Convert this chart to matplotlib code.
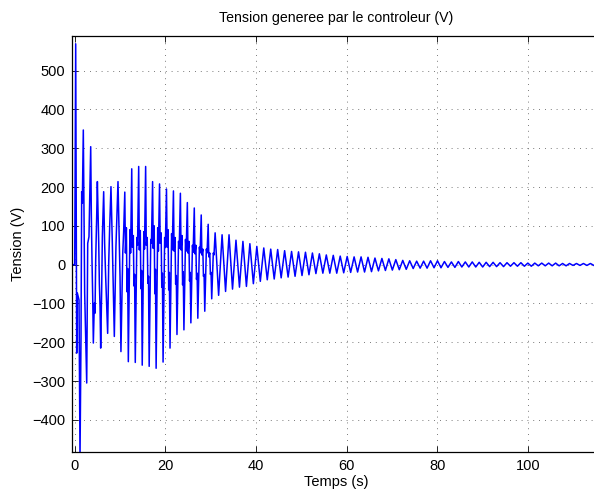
import numpy as np
import matplotlib
matplotlib.use('Agg')
import matplotlib.pyplot as plt

plt.rcParams['font.family'] = ['Liberation Sans', 'DejaVu Sans']

# ========== Données ==========
# debut du signal : points lus un par un (temps en s, tension en V)
t_debut = [-0.53, 0.0, 0.22, 0.44, 0.58, 0.95, 1.17, 1.39, 1.54, 1.68, 1.9,
           2.2, 2.65, 2.87, 3.15, 3.53, 3.67, 3.82, 3.97, 4.11, 4.33, 4.48,
           4.63, 4.85, 5.0, 5.3, 5.44, 5.59, 5.73, 5.95, 6.1, 6.39, 6.6,
           6.83, 7.27, 7.5, 7.72, 8.0, 8.3, 8.5, 8.74, 9.1, 9.55, 10.0,
           10.2, 10.6, 10.8]
u_debut = [0, 0, 569, -228, -73, -91, -500, -190, 188, 158, 347,
           -73, -305, 55, 72, 304, 128, 8, -82, -202, -99, -125,
           12, 124, 214, 55, -48, -108, -215, -65, 72, 188, 55,
           -31, -177, 4, 98, 201, 55, -56, -185, 47, 214, -31,
           -224, 30, 85]

# ensuite : un maximum et un minimum par periode
t_premier_max = 11.05
periode = 1.533
u_max = [187, 247, 253, 253, 214, 208, 195, 190, 184, 160, 146, 128, 104,
         82, 77, 77, 63, 60, 54, 47, 43, 40, 39, 36, 34, 33, 32, 30, 28,
         25, 24, 22, 21, 20, 20, 19, 17, 16, 15, 13, 11, 10, 9, 9, 10, 10,
         8, 7, 8, 7, 7, 6, 6, 6, 5, 5, 5, 5, 4, 4, 4, 4, 4, 3, 3, 3, 3, 3]
u_min = [-250, -252, -259, -262, -267, -251, -215, -180, -168, -150, -138,
         -120, -88, -79, -69, -63, -58, -56, -49, -43, -39, -37, -34, -32,
         -30, -28, -26, -23, -22, -22, -22, -21, -20, -19, -19, -18, -16,
         -15, -14, -13, -12, -10, -9, -9, -8, -8, -7, -7, -6, -6, -6, -6,
         -5, -5, -5, -4, -4, -4, -4, -3, -3, -3, -3, -3, -2, -2, -2, -2]

# oscillations rapides superposees pendant les 13 premieres periodes
osc_a = [30, 45, 38, 50, 42, 55, 45, 35, 38, 30, 28, 25, 20]
osc_b = [95, 75, 88, 70, 100, 82, 90, 70, 75, 60, 50, 40, 30]
osc_c = [-70, -55, -62, -48, -75, -58, -65, -50, -52, -42, -38, -30, -25]
osc_d = [-10, -25, -15, -30, -12, -22, -20, -28, -18, -20, -22, -25, -20]
osc_e = [90, 70, 85, 65, 95, 70, 80, 60, 65, 50, 45, 40, 30]
osc_f = [30, 50, 40, 55, 35, 45, 38, 42, 35, 32, 30, 30, 25]

# ========== Construction du signal ==========
temps = list(t_debut)
tension = list(u_debut)
for k in range(len(u_max)):
    t0 = t_premier_max + k * periode
    if k < len(osc_a):
        temps += [t0, t0 + 0.14, t0 + 0.35, t0 + 0.49, t0 + 0.63, t0 + 0.78,
                  t0 + 1.13, t0 + 1.28]
        tension += [u_max[k], osc_a[k], osc_b[k], osc_c[k], osc_d[k],
                    u_min[k], osc_e[k], osc_f[k]]
    else:
        temps += [t0, t0 + 0.77]
        tension += [u_max[k], u_min[k]]
temps = np.array(temps)
tension = np.array(tension)

# ========== Graphe ==========
# axes : gauche 72 px, haut 36 px, bas 452 px, bord droit hors image
W, H = 594.0, 492.0
ax_l, ax_r, ax_t, ax_b = 72.3, 600.0, 35.7, 451.7
fig = plt.figure(figsize=(W / 100, H / 100), dpi=100)
ax = fig.add_axes([ax_l / W, (H - ax_b) / H, (ax_r - ax_l) / W,
                   (ax_b - ax_t) / H])
ax.plot(temps, tension, '-', color=(0, 0, 1), linewidth=1.1)
ax.set_xlim(-0.53, -0.53 + (ax_r - ax_l) / 4.533)
ax.set_ylim(-482, 590)
ax.set_xticks(np.arange(0, 101, 20))
ax.set_yticks(np.arange(-400, 501, 100))
ax.grid(True, linestyle=(0, (1, 6)), color='0.3', linewidth=0.6)
ax.tick_params(direction='in', length=4, width=0.6, top=True, right=True,
               labelsize=10.5, pad=5)
for s in ax.spines.values():
    s.set_linewidth(0.9)
ax.set_xlabel('Temps (s)', fontsize=10.5)
ax.xaxis.set_label_coords(0.5, (ax_b - 482) / (ax_b - ax_t))
ax.xaxis.label.set_verticalalignment('center')
ax.set_ylabel('Tension (V)', fontsize=10.5)
ax.yaxis.set_label_coords((18.3 - ax_l) / (ax_r - ax_l), 0.5)
ax.yaxis.label.set_verticalalignment('center')
ax.set_title('Tension generee par le controleur (V)', fontsize=10.2,
             y=1 + (ax_t - 18) / (ax_b - ax_t), va='center', pad=0)
fig.savefig('out.png', dpi=100)
